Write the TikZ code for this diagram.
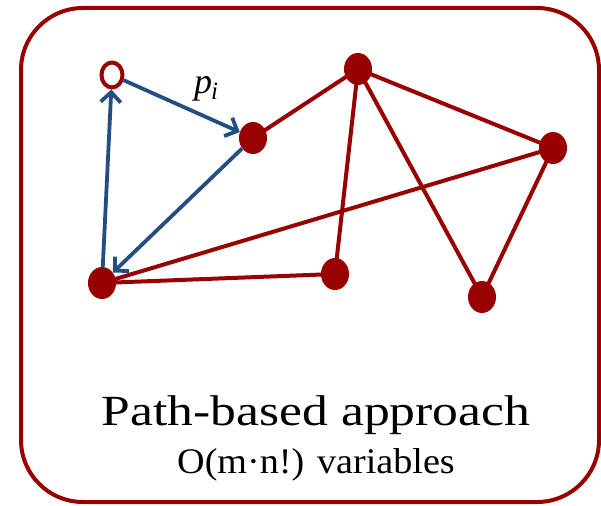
\documentclass[tikz,border=0pt]{standalone}
\usepackage{fontspec}
\setmainfont{Liberation Serif}
\usetikzlibrary{arrows.meta,shapes.geometric,backgrounds}
\definecolor{darkred}{RGB}{153,0,0}
\definecolor{pathblue}{RGB}{35,78,130}
\tikzset{
  vtx/.style={ellipse,fill=darkred,minimum width=28pt,minimum height=32pt,inner sep=0pt},
  openvtx/.style={ellipse,draw=darkred,line width=4pt,fill=white,minimum width=21pt,minimum height=25pt,inner sep=0pt},
  redge/.style={draw=darkred,line width=4pt},
  bedge/.style={draw=pathblue,line width=3.8pt,-{Straight Barb[length=10pt,width=20pt,line width=3.8pt]}},
}
\begin{document}
\begin{tikzpicture}[x=1pt,y=-1pt]
\useasboundingbox (0,0) rectangle (601,505);
\draw[darkred,line width=4pt,rounded corners=62pt] (21,8) rectangle (599,502);
\node[vtx] (A) at (253,138) {};
\node[vtx] (B) at (358,69) {};
\node[vtx] (C) at (553,148) {};
\node[vtx] (D) at (102,283) {};
\node[vtx] (E) at (335,274) {};
\node[vtx] (F) at (482,297) {};
\node[openvtx] (S) at (112,75) {};
\begin{scope}[on background layer]
\path[redge] (A.center) -- (B.center);
\path[redge] (B.center) -- (E.center);
\path[redge] (B.center) -- (F.center);
\path[redge] (B.center) -- (C.center);
\path[redge] (C.center) -- (D.center);
\path[redge] (C.center) -- (F.center);
\path[redge] (D.center) -- (E.center);
\end{scope}
\path[bedge] (S) -- (A);
\path[bedge] (A) -- (D);
\path[bedge] (D) -- (S);
\node[font=\fontsize{36}{36}\selectfont\itshape] (pl) at (206,89) {p\kern-1pt\raisebox{-6pt}{\fontsize{25}{25}\selectfont i}};
\node[font=\fontsize{43}{43}\selectfont,anchor=base] (t1) at (316,425) {\scalebox{1.2}[1]{Path-based approach}};
\node[font=\fontsize{36}{36}\selectfont,anchor=base] (t2) at (316,473) {\scalebox{1.06}[1]{O(m·n!) variables}};
\end{tikzpicture}
\end{document}
